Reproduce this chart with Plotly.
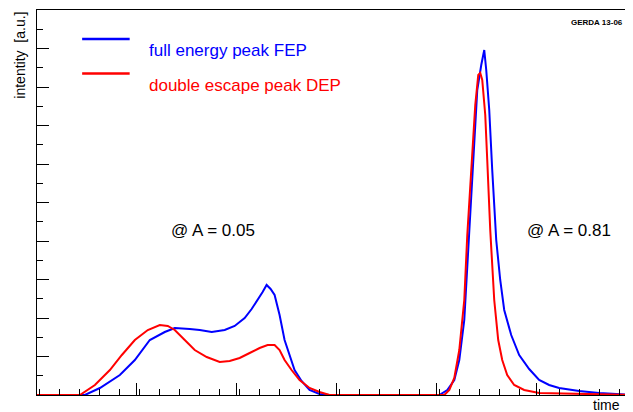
import plotly.graph_objects as go

# time axis in arbitrary units, intensity in arbitrary units
fep_t = [37, 85, 100, 120, 135, 150, 165, 175, 190, 200, 212, 225, 235, 245, 252, 258, 263, 267, 271, 275, 280, 285, 290, 295, 302, 310, 320, 330,
         440, 448, 455, 460, 465, 468, 472, 475, 478, 482, 485, 487, 490, 493, 497, 501, 505, 512, 520, 530, 540, 550, 560, 580, 600, 632]
fep_y = [0, 0, 7, 20, 35, 55, 63, 67, 66, 65, 63, 65, 69, 77, 86, 95, 103, 110, 106, 100, 80, 55, 40, 25, 14, 5, 1, 0,
         0, 5, 15, 35, 75, 130, 195, 260, 305, 330, 345, 325, 285, 225, 155, 115, 85, 60, 40, 26, 15, 10, 7, 4, 2, 0]
dep_t = [37, 80, 95, 110, 122, 135, 148, 160, 168, 175, 185, 195, 207, 220, 230, 240, 250, 260, 268, 275, 280, 285, 292, 300, 310, 320, 330,
         445, 450, 455, 460, 465, 468, 472, 476, 479, 481, 483, 486, 488, 491, 495, 499, 503, 508, 515, 525, 540, 632]
dep_y = [0, 0, 10, 25, 40, 55, 65, 70, 69, 65, 55, 45, 38, 33, 34, 37, 42, 47, 50, 50, 45, 35, 25, 15, 7, 3, 0,
         0, 5, 17, 45, 95, 160, 225, 290, 320, 322, 315, 280, 235, 165, 95, 55, 35, 20, 10, 5, 2, 0]

fig = go.Figure()
fig.add_trace(go.Scatter(x=fep_t, y=fep_y, mode="lines", line=dict(color="#0000ff", width=2), showlegend=False))
fig.add_trace(go.Scatter(x=dep_t, y=dep_y, mode="lines", line=dict(color="#ff0000", width=2), showlegend=False))

ax = dict(showgrid=False, zeroline=False, showline=True, linecolor="black", linewidth=1, mirror=True,
          ticks="inside", ticklen=12, tickcolor="black", showticklabels=False)
fig.update_xaxes(**ax, range=[37, 632], dtick=100, tick0=37,
                 minor=dict(ticks="inside", ticklen=6, dtick=20, tickcolor="black"))
fig.update_yaxes(**ax, range=[0, 385], dtick=38.5, tick0=0,
                 minor=dict(ticks="inside", ticklen=6, dtick=19.25, tickcolor="black"))

f = dict(family="Liberation Sans, Arial", color="black")
fig.add_shape(type="line", xref="paper", yref="paper", x0=0.076, x1=0.156, y0=0.925, y1=0.925, line=dict(color="#0000ff", width=2.5))
fig.add_shape(type="line", xref="paper", yref="paper", x0=0.076, x1=0.156, y0=0.835, y1=0.835, line=dict(color="#ff0000", width=2.5))
fig.add_annotation(xref="paper", yref="paper", x=0.185, y=0.925, text="full energy peak FEP", showarrow=False, xanchor="left", font=dict(f, size=17, color="#0000ff"))
fig.add_annotation(xref="paper", yref="paper", x=0.185, y=0.835, text="double escape peak DEP", showarrow=False, xanchor="left", font=dict(f, size=17, color="#ff0000"))
fig.add_annotation(x=213, y=165, text="@ A = 0.05", showarrow=False, font=dict(f, size=17))
fig.add_annotation(x=570, y=165, text="@ A = 0.81", showarrow=False, font=dict(f, size=17))
fig.add_annotation(xref="paper", yref="paper", x=0.99, y=0.985, text="<b>GERDA 13-06</b>", showarrow=False, xanchor="right", yanchor="top", font=dict(f, size=8))
fig.add_annotation(xref="paper", yref="paper", x=0.985, y=0.0, text="time", showarrow=False, xanchor="right", yanchor="top", font=dict(f, size=14))
fig.add_annotation(xref="paper", yref="paper", x=-0.03, y=1.0, text="intentity  [a.u.]", showarrow=False, textangle=-90, xanchor="center", yanchor="top", font=dict(f, size=14))

fig.update_layout(width=625, height=404, margin=dict(l=29, r=2, t=2, b=17, autoexpand=False),
                  paper_bgcolor="white", plot_bgcolor="white")
fig.write_html("out.html")
